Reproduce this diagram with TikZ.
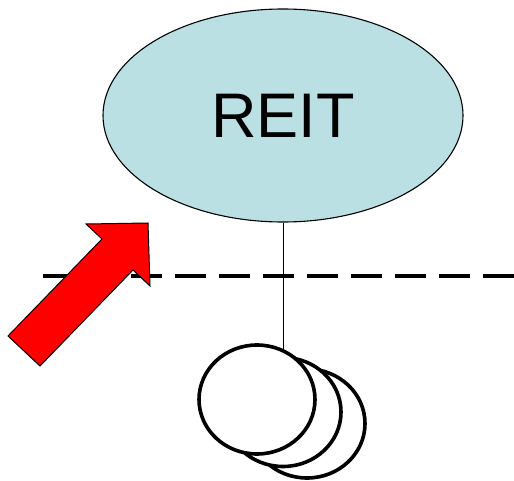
\documentclass[tikz,border=0pt]{standalone}
\usepackage{fontspec}
\setmainfont{Liberation Sans}
\usetikzlibrary{shapes.geometric}
\definecolor{reitblue}{RGB}{187,224,228}
\definecolor{arrowred}{RGB}{255,0,0}
\tikzset{
  bigoval/.style={ellipse, draw=black, line width=1.1pt, fill=reitblue,
    minimum width=360pt, minimum height=213pt, inner sep=0pt,
    font=\fontsize{63}{63}\selectfont},
  ring/.style={ellipse, draw=black, line width=3.6pt, fill=white,
    minimum width=116pt, minimum height=109pt, inner sep=0pt},
  boundary/.style={line width=4pt, dash pattern=on 31pt off 13pt},
  link/.style={line width=1pt},
  bigarrow/.style={fill=arrowred, draw=black, line width=1pt, line join=miter}
}
\begin{document}
\begin{tikzpicture}[x=1pt,y=-1pt]
  \useasboundingbox (0,0) rectangle (514,481);
  % dashed boundary line
  \coordinate (dl) at (43,276);
  \coordinate (dr) at (514,276);
  \draw[boundary] (dl) -- (dr);
  % REIT oval
  \node[bigoval] (reit) at (283,115.5) {REIT};
  % stacked circles (back to front)
  \node[ring] (c3) at (307,423.5) {};
  \node[ring] (c2) at (283,412) {};
  \draw[link] (reit.south) -- (reit.south |- c2.center);
  \node[ring] (c1) at (257,399.5) {};
  % red block arrow
  \draw[bigarrow] (8,336) -- (102,239) -- (86,224) -- (148,223)
    -- (150,286) -- (133,270) -- (40,366) -- cycle;
\end{tikzpicture}
\end{document}
